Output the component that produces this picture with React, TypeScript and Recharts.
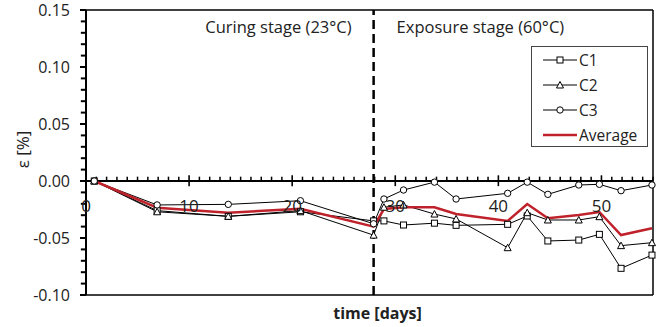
import React from "react";
import {
  LineChart,
  Line,
  XAxis,
  YAxis,
  ReferenceLine,
  Label,
  Legend,
} from "recharts";

// days since casting
const days = [0.8, 6.9, 13.8, 20.8, 27.9, 28.9, 30.8, 33.8, 35.9, 40.9, 42.8, 44.8, 47.8, 49.8, 51.9, 54.9];

// strain values [%]
const c1 = [0, -0.026, -0.031, -0.027, -0.035, -0.035, -0.0386, -0.037, -0.0389, -0.038, -0.0307, -0.0526, -0.0518, -0.0468, -0.0766, -0.065];
const c2 = [0, -0.027, -0.031, -0.026, -0.0475, -0.023, -0.021, -0.029, -0.0333, -0.0585, -0.0278, -0.0342, -0.0342, -0.0313, -0.0567, -0.0541];
const c3 = [0, -0.021, -0.0205, -0.0173, -0.0375, -0.0158, -0.0079, -0.001, -0.0158, -0.0108, -0.001, -0.0117, -0.0035, -0.0029, -0.0085, -0.0035];
const average = [0, -0.0234, -0.0278, -0.0243, -0.04, -0.0246, -0.0231, -0.023, -0.029, -0.035, -0.0202, -0.0327, -0.0298, -0.0272, -0.0474, -0.0415];

const stageChange = 27.9;
const xMax = 55;
const xMajor = [0, 10, 20, 30, 40, 50];
const xMinor = Array.from({ length: 55 }, (_, i) => i + 1).filter((d) => d % 10 !== 0);
const yMajor = [-0.1, -0.05, 0, 0.05, 0.1, 0.15];
const yMinor = Array.from({ length: 26 }, (_, i) => Math.round((-0.1 + i * 0.01) * 100) / 100).filter(
  (v) => Math.round(v * 100) % 5 !== 0
);

const rows = days.map((day, i) => ({
  day,
  c1: c1[i],
  c2: c2[i],
  c3: c3[i],
  average: average[i],
}));

const RED = "#C0222B";
const TEXT = "#222";
const FONT = "'Open Sans', sans-serif";

const squareDot = (p: any) => (
  <rect key={`s${p.index}`} x={p.cx - 3} y={p.cy - 3} width={6} height={6} fill="#fff" stroke="#000" strokeWidth={1} />
);
const triangleDot = (p: any) => (
  <path key={`t${p.index}`} d={`M${p.cx},${p.cy - 3.5} L${p.cx + 3.5},${p.cy + 3} L${p.cx - 3.5},${p.cy + 3} Z`} fill="#fff" stroke="#000" strokeWidth={1} />
);
const circleDot = (p: any) => (
  <circle key={`c${p.index}`} cx={p.cx} cy={p.cy} r={3.2} fill="#fff" stroke="#000" strokeWidth={1} />
);

const series = [
  { key: "c1", name: "C1", marker: "square" },
  { key: "c2", name: "C2", marker: "triangle" },
  { key: "c3", name: "C3", marker: "circle" },
  { key: "average", name: "Average", marker: "none" },
];

function LegendIcon({ marker }: { marker: string }) {
  if (marker === "none") {
    return (
      <svg width={34} height={10}>
        <line x1={0} y1={5} x2={34} y2={5} stroke={RED} strokeWidth={2.5} />
      </svg>
    );
  }
  return (
    <svg width={34} height={10}>
      <line x1={0} y1={5} x2={34} y2={5} stroke="#000" strokeWidth={1} />
      {marker === "square" && squareDot({ cx: 17, cy: 5, index: 0 })}
      {marker === "triangle" && triangleDot({ cx: 17, cy: 5, index: 0 })}
      {marker === "circle" && circleDot({ cx: 17, cy: 5, index: 0 })}
    </svg>
  );
}

function LegendBox() {
  return (
    <div
      style={{
        width: 117,
        height: 101,
        boxSizing: "border-box",
        border: "1px solid #444",
        background: "#fff",
        fontFamily: FONT,
        fontSize: 15.5,
        color: TEXT,
      }}
    >
      {series.map((s) => (
        <div key={s.key} style={{ height: 25, display: "flex", alignItems: "center", paddingLeft: 11 }}>
          <LegendIcon marker={s.marker} />
          <span style={{ marginLeft: 2 }}>{s.name}</span>
        </div>
      ))}
    </div>
  );
}

export default function App() {
  return (
    <div style={{ position: "absolute", left: 0, top: 0, fontFamily: FONT }}>
      <LineChart width={659} height={327} data={rows} margin={{ top: 10, right: 6, bottom: 0, left: 26 }}>
        <XAxis
          dataKey="day"
          type="number"
          domain={[0, xMax]}
          ticks={xMajor}
          tick={false}
          tickLine={false}
          axisLine={false}
          height={32}
          label={{
            content: ({ viewBox }: any) => (
              <text
                x={viewBox.x + viewBox.width / 2 + 8}
                y={viewBox.y + 24}
                textAnchor="middle"
                fontWeight="bold"
                fontSize={16}
                fill={TEXT}
              >
                time [days]
              </text>
            ),
          }}
        />
        <YAxis
          type="number"
          domain={[-0.1, 0.15]}
          ticks={yMajor}
          width={60}
          tickSize={6}
          tickMargin={10}
          tickFormatter={(v: number) => v.toFixed(2)}
          tick={{ fill: TEXT, fontSize: 16 }}
          tickLine={{ stroke: "#000", strokeWidth: 2 }}
          axisLine={{ stroke: "#000", strokeWidth: 2 }}
          allowDataOverflow
          label={{
            content: ({ viewBox }: any) => (
              <text
                transform={`translate(${viewBox.x - 4}, ${viewBox.y + viewBox.height / 2 - 3}) rotate(-90)`}
                textAnchor="middle"
                dominantBaseline="central"
                fontSize={17}
                fill={TEXT}
              >
                ε [%]
              </text>
            ),
          }}
        />

        {/* minor y ticks, drawn just outside the axis */}
        {yMinor.map((v) => (
          <ReferenceLine
            key={`ym${v}`}
            segment={[{ x: -0.5, y: v }, { x: 0, y: v }]}
            ifOverflow="visible"
            stroke="#000"
            strokeWidth={2}
          />
        ))}

        {/* plot frame */}
        <ReferenceLine y={0.15} stroke="#000" strokeWidth={1.5} />
        <ReferenceLine y={-0.1} stroke="#000" strokeWidth={1.5} />
        <ReferenceLine x={xMax} stroke="#000" strokeWidth={1.5} />

        {/* x axis crossing at zero */}
        <ReferenceLine y={0} stroke="#000" strokeWidth={2} />
        {xMinor.map((d) => (
          <ReferenceLine key={`m${d}`} segment={[{ x: d, y: 0 }, { x: d, y: 0.0038 }]} stroke="#000" strokeWidth={1.5} />
        ))}
        {xMajor.map((d) => (
          <ReferenceLine
            key={`M${d}`}
            segment={[{ x: d, y: 0.005 }, { x: d, y: -0.0045 }]}
            stroke="#000"
            strokeWidth={d === 0 ? 0 : 1.6}
            label={{ value: String(d), position: "bottom", offset: 14, fill: TEXT, fontSize: 17 }}
          />
        ))}

        {/* stage boundary */}
        <ReferenceLine x={stageChange} stroke="#000" strokeWidth={2.5} strokeDasharray="9 5">
          <Label
            content={({ viewBox }: any) => (
              <text x={viewBox.x - 22} y={viewBox.y + 23} textAnchor="end" fontSize={16.5} fill={TEXT}>
                Curing stage (23°C)
              </text>
            )}
          />
          <Label
            content={({ viewBox }: any) => (
              <text x={viewBox.x + 23} y={viewBox.y + 23} textAnchor="start" fontSize={16.5} fill={TEXT}>
                Exposure stage (60°C)
              </text>
            )}
          />
        </ReferenceLine>

        <Line type="linear" dataKey="c1" name="C1" stroke="#000" strokeWidth={1} dot={squareDot} isAnimationActive={false} />
        <Line type="linear" dataKey="c2" name="C2" stroke="#000" strokeWidth={1} dot={triangleDot} isAnimationActive={false} />
        <Line type="linear" dataKey="c3" name="C3" stroke="#000" strokeWidth={1} dot={circleDot} isAnimationActive={false} />
        <Line type="linear" dataKey="average" name="Average" stroke={RED} strokeWidth={2.5} dot={false} isAnimationActive={false} />

        <Legend
          layout="vertical"
          align="center"
          verticalAlign="middle"
          content={() => <LegendBox />}
          wrapperStyle={{ position: "absolute", left: 531, top: 46, width: 117 }}
        />
      </LineChart>
    </div>
  );
}
